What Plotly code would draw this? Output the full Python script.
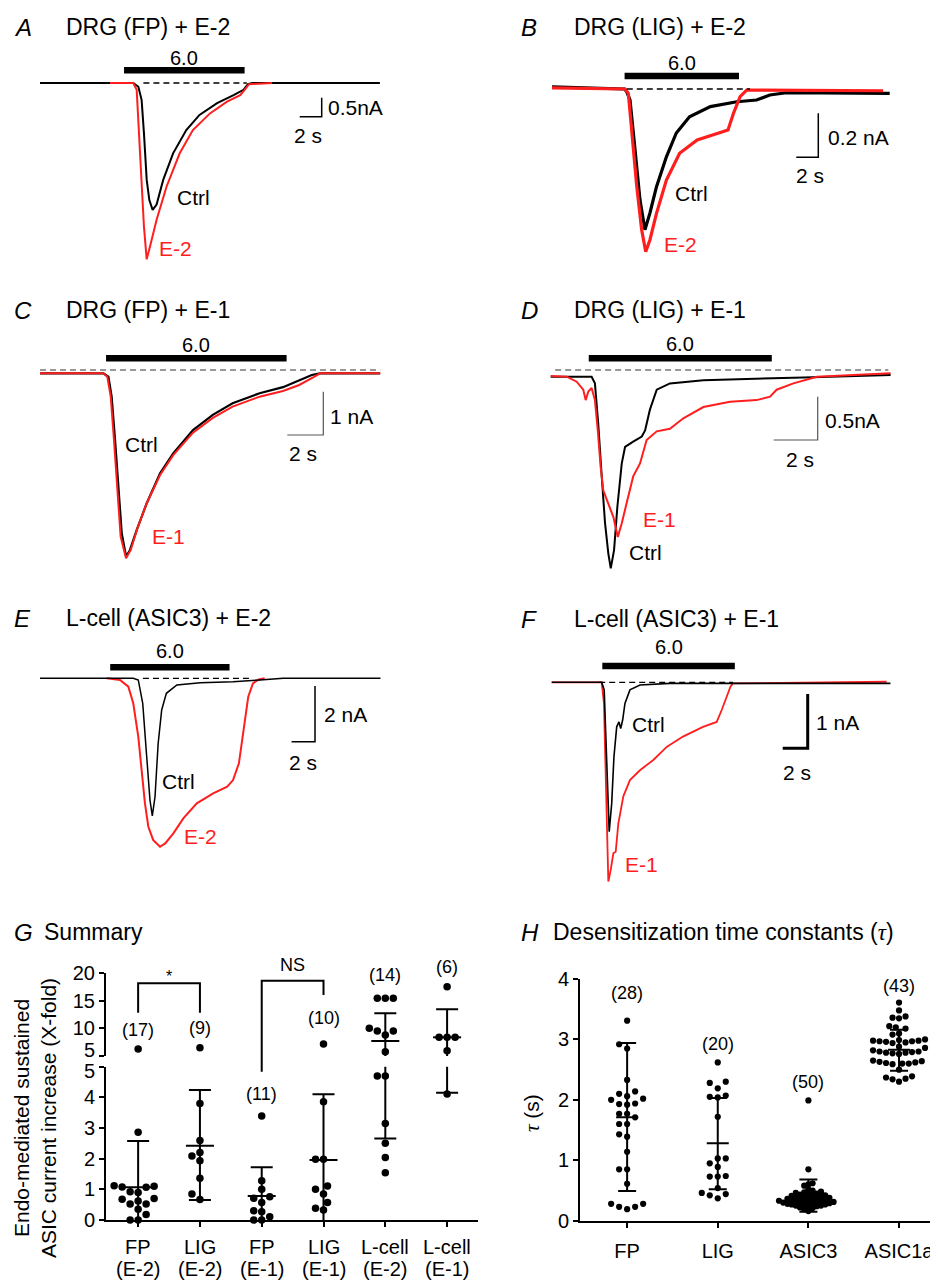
import plotly.graph_objects as go

# page is shown with the browser's default 8px body margin: compensate so that
# reference pixel (x, y) lands on screen pixel (x, y)
W, H = 938, 1282
OX, OY = 8, 8
FW, FH = W - OX, H - OY
FONT = "Liberation Sans, Arial, Helvetica, sans-serif"
RED = "#ff1e1e"
BLACK = "#000000"
GRAY = "#777777"

# ---------------- Panels A-F : example currents (time s, current nA) ----------------
TITLES = ["DRG (FP) + E-2", "DRG (LIG) + E-2", "DRG (FP) + E-1",
          "DRG (LIG) + E-1", "L-cell (ASIC3) + E-2", "L-cell (ASIC3) + E-1"]
LETTERS = ["A", "B", "C", "D", "E", "F"]
DRUG_LABELS = ["E-2", "E-2", "E-1", "E-1", "E-2", "E-1"]
CTRL_LABEL = "Ctrl"
PH_LABEL = "6.0"
STIM_ON = [7.64, 6.6, 3.67, 1.73, 6.0, 4.05]
STIM_OFF = [18.6, 17.0, 13.7, 10.05, 16.2, 14.65]
SCALE_T = [2, 2, 2, 2, 2, 2]
SCALE_I = [0.5, 0.2, 1, 0.5, 2, 1]
SCALE_T_TEXT = ["2 s"] * 6
SCALE_I_TEXT = ["0.5nA", "0.2 nA", "1 nA", "0.5nA", "2 nA", "1 nA"]

A_CTRL_T = [0, 8.48, 8.94, 9.24, 9.45, 9.7, 9.94, 10.24, 10.6, 11.2, 12.1, 13.3, 14.5, 16.1, 17.6, 18.5, 18.9, 19.3, 30.9]
A_CTRL_I = [0, 0, -0.1, -0.45, -1.32, -2.55, -3.08, -3.34, -3.2, -2.55, -1.85, -1.24, -0.84, -0.53, -0.32, -0.18, -0.03, 0, 0]
A_DRUG_T = [6.36, 8.48, 8.79, 9.03, 9.24, 9.45, 9.7, 10.0, 10.6, 11.5, 12.7, 13.9, 15.45, 17.0, 18.2, 18.6, 19.0, 21.1]
A_DRUG_I = [0, 0, -0.18, -1.32, -2.64, -3.78, -4.64, -4.3, -3.6, -2.73, -1.85, -1.24, -0.8, -0.49, -0.32, -0.18, -0.03, 0]

B_CTRL_T = [0, 6.6, 6.79, 7.09, 7.55, 8.0, 8.45, 8.9, 9.5, 10.4, 11.3, 12.5, 14.4, 16.8, 18.6, 19.8, 21.3, 30.7]
B_CTRL_I = [0.01, 0.0, -0.012, -0.05, -0.277, -0.505, -0.64, -0.564, -0.444, -0.308, -0.2, -0.126, -0.08, -0.058, -0.05, -0.027, -0.017, -0.02]
B_DRUG_T = [0, 6.64, 6.94, 7.24, 7.7, 8.15, 8.52, 8.9, 9.5, 10.4, 11.6, 13.2, 15.0, 16.0, 16.5, 17.1, 17.7, 30.1]
B_DRUG_I = [0.005, 0, -0.02, -0.2, -0.44, -0.64, -0.74, -0.686, -0.565, -0.414, -0.292, -0.232, -0.2, -0.186, -0.11, -0.035, -0.005, -0.008]

C_CTRL_T = [0, 3.52, 3.8, 3.98, 4.17, 4.35, 4.54, 4.78, 5.0, 5.37, 5.93, 6.67, 7.4, 8.5, 9.6, 10.7, 12.2, 13.5, 14.4, 15.1, 15.56, 18.9]
C_CTRL_I = [0, 0, -0.08, -0.54, -1.54, -2.7, -3.69, -4.23, -4.08, -3.62, -3.0, -2.31, -1.85, -1.31, -0.96, -0.69, -0.46, -0.32, -0.17, -0.04, 0, 0]
C_DRUG_T = [0, 3.52, 3.74, 3.93, 4.11, 4.3, 4.48, 4.78, 5.04, 5.41, 5.93, 6.67, 7.4, 8.5, 9.6, 10.7, 12.2, 13.5, 14.4, 15.2, 15.56, 18.9]
C_DRUG_I = [0, 0, -0.08, -0.54, -1.54, -2.7, -3.77, -4.27, -4.08, -3.58, -3.0, -2.35, -1.89, -1.37, -1.03, -0.77, -0.54, -0.41, -0.27, -0.09, 0, 0]

D_CTRL_T = [0, 1.86, 2.01, 2.16, 2.32, 2.47, 2.62, 2.73, 2.88, 3.03, 3.23, 3.38, 3.75, 4.14, 4.29, 4.51, 4.82, 5.42, 6.94, 9.2, 11.5, 15.45]
D_CTRL_I = [0, 0, -0.077, -0.54, -1.15, -1.69, -2.04, -2.21, -2.0, -1.5, -1.0, -0.81, -0.75, -0.69, -0.62, -0.38, -0.15, -0.077, -0.04, -0.02, -0.008, 0.02]
D_DRUG_T = [0, 0.73, 1.18, 1.48, 1.59, 1.71, 1.86, 2.01, 2.14, 2.27, 2.39, 2.62, 2.85, 3.05, 3.23, 3.45, 3.75, 4.06, 4.36, 4.82, 5.42, 6.03, 6.94, 8.15, 9.36, 9.97, 10.27, 11.03, 12.1, 15.45]
D_DRUG_I = [0.008, 0, -0.058, -0.15, -0.27, -0.17, -0.13, -0.27, -0.62, -1.04, -1.31, -1.46, -1.62, -1.85, -1.69, -1.46, -1.15, -1.0, -0.73, -0.63, -0.6, -0.48, -0.35, -0.29, -0.27, -0.23, -0.15, -0.077, 0, 0.04]

E_CTRL_T = [0, 7.97, 8.4, 8.78, 9.12, 9.4, 9.6, 9.83, 10.1, 10.4, 10.8, 11.7, 13.7, 16.5, 18.8, 20.8, 29.1]
E_CTRL_I = [0, 0, -0.06, -0.9, -2.82, -4.38, -4.95, -4.26, -2.34, -1.14, -0.54, -0.24, -0.16, -0.12, -0.06, 0, 0]
E_DRUG_T = [5.7, 6.84, 7.55, 7.97, 8.4, 8.69, 8.97, 9.26, 9.68, 10.26, 10.7, 11.4, 12.25, 13.4, 14.8, 16.0, 16.5, 17.0, 17.4, 17.8, 18.2, 18.7, 19.2]
E_DRUG_I = [0, -0.06, -0.3, -0.9, -2.1, -3.3, -4.5, -5.34, -5.82, -6.06, -5.94, -5.58, -5.04, -4.5, -4.14, -3.9, -3.66, -3.06, -1.86, -0.66, -0.18, -0.04, 0]

F_CTRL_T = [0, 4.0, 4.2, 4.4, 4.53, 4.6, 4.8, 4.98, 5.2, 5.38, 5.52, 5.68, 5.86, 6.26, 7.06, 9.46, 27.1]
F_CTRL_I = [0, 0, -0.14, -1.31, -2.23, -2.75, -2.23, -1.37, -0.82, -0.73, -0.85, -0.69, -0.39, -0.14, -0.05, -0.02, -0.02]
F_DRUG_T = [0, 4.0, 4.18, 4.32, 4.4, 4.53, 4.72, 4.93, 5.12, 5.33, 5.73, 6.26, 7.06, 8.13, 9.2, 10.5, 12.1, 13.2, 13.6, 13.9, 14.3, 14.5, 26.8]
F_DRUG_I = [0, 0, -0.39, -1.62, -2.84, -3.67, -3.46, -3.15, -3.12, -2.6, -2.1, -1.8, -1.62, -1.43, -1.19, -1.0, -0.82, -0.73, -0.51, -0.33, -0.08, -0.02, 0.01]

CTRL_T = [A_CTRL_T, B_CTRL_T, C_CTRL_T, D_CTRL_T, E_CTRL_T, F_CTRL_T]
CTRL_I = [A_CTRL_I, B_CTRL_I, C_CTRL_I, D_CTRL_I, E_CTRL_I, F_CTRL_I]
DRUG_T = [A_DRUG_T, B_DRUG_T, C_DRUG_T, D_DRUG_T, E_DRUG_T, F_DRUG_T]
DRUG_I = [A_DRUG_I, B_DRUG_I, C_DRUG_I, D_DRUG_I, E_DRUG_I, F_DRUG_I]

# ---------------- Panel G : summary ----------------
G_CATS = ["FP", "LIG", "FP", "LIG", "L-cell", "L-cell"]
G_DRUGS = ["(E-2)", "(E-2)", "(E-1)", "(E-1)", "(E-2)", "(E-1)"]
G_N = ["(17)", "(9)", "(11)", "(10)", "(14)", "(6)"]
G_VALUES = [
    [6.27, 2.86, 1.12, 1.10, 1.08, 1.07, 0.92, 0.90, 0.70, 0.68, 0.62, 0.52, 0.52, 0.35, 0.18, 0.0, 0.0],
    [6.51, 3.80, 2.59, 2.20, 2.09, 1.93, 1.36, 0.85, 0.67],
    [3.39, 1.28, 1.00, 0.76, 0.71, 0.57, 0.30, 0.27, 0.11, 0.0, 0.0],
    [7.18, 3.86, 1.98, 1.98, 1.11, 1.00, 0.85, 0.57, 0.38, 0.33],
    [15.47, 15.47, 15.47, 10.02, 9.54, 9.54, 8.81, 5.79, 4.70, 4.70, 3.15, 2.50, 2.04, 1.54],
    [17.58, 8.39, 8.39, 8.39, 5.97, 4.11],
]
G_MEAN = [1.07, 2.42, 0.78, 1.96, 7.72, 8.39]
G_HI = [2.58, 4.24, 1.72, 4.10, 12.74, 13.47]
G_LO = [-0.44, 0.65, -0.16, -0.18, 2.66, 4.15]
G_LOW_TICKS = [0, 1, 2, 3, 4, 5]
G_UP_TICKS = [5, 10, 15, 20]
G_YTITLE = "Endo-mediated sustained<br>ASIC current increase (X-fold)"

# ---------------- Panel H : desensitization time constants ----------------
H_CATS = ["FP", "LIG", "ASIC3", "ASIC1a"]
H_N = ["(28)", "(20)", "(50)", "(43)"]
H_VALUES = [
    [3.31, 2.92, 2.85, 2.33, 2.14, 2.10, 2.06, 2.02, 2.00, 1.94, 1.93, 1.92, 1.77, 1.77, 1.71,
     1.60, 1.60, 1.43, 1.39, 1.14, 0.85, 0.85, 0.61, 0.28, 0.28, 0.23, 0.23, 0.19],
    [2.62, 2.30, 2.28, 2.19, 2.07, 2.05, 2.04, 1.72, 1.03, 1.03, 0.95, 0.89, 0.74, 0.73, 0.73,
     0.54, 0.46, 0.44, 0.42, 0.37],
    [1.99, 0.85, 0.62, 0.60, 0.58, 0.52, 0.50, 0.48, 0.47, 0.46, 0.45, 0.44, 0.43, 0.42, 0.42,
     0.41, 0.40, 0.40, 0.39, 0.38, 0.38, 0.37, 0.36, 0.36, 0.35, 0.34, 0.34, 0.33, 0.33, 0.32,
     0.32, 0.31, 0.31, 0.30, 0.30, 0.29, 0.29, 0.28, 0.28, 0.27, 0.27, 0.26, 0.25, 0.25, 0.24,
     0.23, 0.22, 0.21, 0.19, 0.16],
    [3.61, 3.48, 3.38, 3.36, 3.35, 3.22, 3.20, 3.18, 3.10, 3.08, 3.00, 2.99, 2.98, 2.98, 2.97,
     2.97, 2.96, 2.95, 2.94, 2.88, 2.86, 2.82, 2.80, 2.80, 2.79, 2.78, 2.78, 2.77, 2.76, 2.65,
     2.64, 2.63, 2.62, 2.61, 2.60, 2.60, 2.59, 2.50, 2.39, 2.37, 2.35, 2.34, 2.30],
]
H_MEAN = [1.71, 1.28, 0.38, 2.83]
H_HI = [2.94, 2.03, 0.68, 3.16]
H_LO = [0.49, 0.52, 0.15, 2.48]
H_TICKS = [0, 1, 2, 3, 4]

# ---------------- layout specs (pixel positions in the reference) ----------------
SPEC = [
    dict(box=(30, 400, 40, 275), t0=40, sx=11.0, i0=83.0, sy=38.0, bar=70.3, ph=58,
         dash=(9.4, 18.8, 0.0, BLACK), corner=(321.7, 116.7), sbw=1.5, sbc=BLACK,
         lx=13, tx=65, ly=27, ctrl=(176, 197), drug=(158, 248), st=(327, 108), ss=(293, 135),
         red_top=True, lwc=2.0, lwd=2.0),
    dict(box=(540, 900, 40, 270), t0=552, sx=11.0, i0=89.0, sy=220.0, bar=76, ph=63,
         dash=(6.8, 18.0, 0.0, BLACK), corner=(818.3, 157.3), sbw=1.5, sbc=BLACK,
         lx=520, tx=573, ly=27, ctrl=(674, 194), drug=(663, 244), st=(827, 137), ss=(795, 175),
         red_top=True, lwc=3.2, lwd=3.2),
    dict(box=(30, 400, 330, 570), t0=40, sx=18.0, i0=373.3, sy=43.3, bar=358.3, ph=345,
         dash=(0.0, 18.9, 0.076, GRAY), corner=(323.3, 435), sbw=1.2, sbc="#555555",
         lx=13, tx=65, ly=310, ctrl=(124, 444), drug=(151, 536), st=(329, 417), ss=(288, 454),
         red_top=True, lwc=2.2, lwd=2.0),
    dict(box=(540, 900, 330, 575), t0=550.7, sx=22.0, i0=376.7, sy=86.7, bar=358.3, ph=344,
         dash=(0.2, 15.35, 0.077, GRAY), corner=(817.7, 440), sbw=1.2, sbc="#555555",
         lx=520, tx=573, ly=310, ctrl=(628, 552), drug=(642, 519), st=(824, 420), ss=(785, 459),
         red_top=True, lwc=2.0, lwd=2.0),
    dict(box=(30, 400, 640, 860), t0=40, sx=11.7, i0=678.3, sy=27.8, bar=667.3, ph=651,
         dash=(8.8, 18.2, 0.0, BLACK), corner=(315, 741.7), sbw=1.5, sbc=BLACK,
         lx=13, tx=65, ly=618, ctrl=(161, 781), drug=(183, 836), st=(323, 714), ss=(288, 762),
         red_top=False, lwc=1.5, lwd=2.0),
    dict(box=(540, 900, 640, 890), t0=551.7, sx=12.5, i0=682.3, sy=54.3, bar=666, ph=647,
         dash=(3.8, 14.5, 0.0, BLACK), corner=(807.7, 748.3), sbw=3.0, sbc=BLACK,
         lx=520, tx=573, ly=619, ctrl=(631, 724), drug=(624, 864), st=(815, 722), ss=(782, 772),
         red_top=False, lwc=1.6, lwd=1.8),
]

fig = go.Figure()
axes = {}
shapes = []
annotations = []


def px2p(px):
    return (px - OX) / FW


def py2p(py):
    return 1 - (py - OY) / FH


def ann(px, py, text, size=21, color=BLACK, xanchor="left", yanchor="middle", **kw):
    annotations.append(dict(x=px2p(px), y=py2p(py), xref="paper", yref="paper", text=text,
                            showarrow=False, xanchor=xanchor, yanchor=yanchor, borderpad=0,
                            font=dict(family=FONT, size=size, color=color), **kw))


for k, sp in enumerate(SPEC):
    n = k + 1
    sfx = "" if n == 1 else str(n)
    xa, ya = "x" + sfx, "y" + sfx
    l, r, t, b = sp["box"]
    xr = [(l - sp["t0"]) / sp["sx"], (r - sp["t0"]) / sp["sx"]]
    yr = [(sp["i0"] - b) / sp["sy"], (sp["i0"] - t) / sp["sy"]]
    axes["xaxis" + sfx] = dict(domain=[px2p(l), px2p(r)], range=xr, visible=False, anchor=ya, automargin=False)
    axes["yaxis" + sfx] = dict(domain=[py2p(b), py2p(t)], range=yr, visible=False, anchor=xa, automargin=False)
    ctrl = go.Scatter(x=CTRL_T[k], y=CTRL_I[k], mode="lines", xaxis=xa, yaxis=ya,
                      line=dict(color=BLACK, width=sp["lwc"]), hoverinfo="skip")
    drug = go.Scatter(x=DRUG_T[k], y=DRUG_I[k], mode="lines", xaxis=xa, yaxis=ya,
                      line=dict(color=RED, width=sp["lwd"]), hoverinfo="skip")
    for tr in ([ctrl, drug] if sp["red_top"] else [drug, ctrl]):
        fig.add_trace(tr)
    # stimulus bar
    shapes.append(dict(type="line", xref=xa, yref="paper", x0=STIM_ON[k], x1=STIM_OFF[k],
                       y0=py2p(sp["bar"]), y1=py2p(sp["bar"]), line=dict(color=BLACK, width=6.5)))
    annotations.append(dict(x=(STIM_ON[k] + STIM_OFF[k]) / 2, xref=xa, y=py2p(sp["ph"]), yref="paper",
                            text=PH_LABEL, showarrow=False, xanchor="center", yanchor="middle",
                            font=dict(family=FONT, size=20, color=BLACK)))
    # dashed baseline
    d0, d1, lvl, dc = sp["dash"]
    shapes.append(dict(type="line", xref=xa, yref=ya, x0=d0, x1=d1, y0=lvl, y1=lvl,
                       line=dict(color=dc, width=1.3, dash="6px,4px")))
    # scale bar
    cx, cy = sp["corner"]
    tc = (cx - sp["t0"]) / sp["sx"]
    ic = (sp["i0"] - cy) / sp["sy"]
    shapes.append(dict(type="path", xref=xa, yref=ya,
                       path=f"M {tc - SCALE_T[k]},{ic} L {tc},{ic} L {tc},{ic + SCALE_I[k]}",
                       line=dict(color=sp["sbc"], width=sp["sbw"])))
    ann(sp["st"][0], sp["st"][1], SCALE_I_TEXT[k])
    ann(sp["ss"][0], sp["ss"][1], SCALE_T_TEXT[k])
    # labels
    ann(sp["lx"], sp["ly"], f"<i>{LETTERS[k]}</i>", size=24)
    ann(sp["tx"], sp["ly"], TITLES[k], size=23)
    ann(sp["ctrl"][0], sp["ctrl"][1], CTRL_LABEL)
    ann(sp["drug"][0], sp["drug"][1], DRUG_LABELS[k], color=RED)


def swarm(vals, ypx, dist, step):
    order = sorted(range(len(vals)), key=lambda q: vals[q])
    placed, off = [], [0.0] * len(vals)
    for q in order:
        y = ypx(vals[q])
        j = 0
        while True:
            cands = [0.0] if j == 0 else ([j * step, -j * step] if j % 2 else [-j * step, j * step])
            hit = None
            for c in cands:
                if all((c - px) ** 2 + (y - pyy) ** 2 >= dist ** 2 for px, pyy in placed):
                    hit = c
                    break
            if hit is not None:
                break
            j += 1
        placed.append((hit, y))
        off[q] = hit
    return off


def whisker(i, mean, hi, lo, wc, wm):
    xs = [i, i, None, i - wc, i + wc, None, i - wc, i + wc, None, i - wm, i + wm]
    ys = [lo, hi, None, hi, hi, None, lo, lo, None, mean, mean]
    return xs, ys


AX = dict(showgrid=False, zeroline=False, showline=True, linewidth=2, linecolor=BLACK,
          ticks="outside", ticklen=5, tickwidth=2, tickcolor=BLACK, automargin=False,
          tickfont=dict(family=FONT, size=20, color=BLACK))

# ---- G axes: broken y axis ----
G_L, G_R = 106, 478
G_XR = [-0.52, 5.5]
G_LOW = (1066.7, 1220.0)
G_UP = (973.3, 1056.0)
axes["xaxis7"] = dict(AX, domain=[px2p(G_L), px2p(G_R)], range=G_XR, anchor="y7", tickmode="array",
                      tickvals=list(range(len(G_CATS))), ticktext=[""] * len(G_CATS))
axes["yaxis7"] = dict(AX, domain=[py2p(G_LOW[1]), py2p(G_LOW[0])], range=[0, 5], anchor="x7",
                      tickmode="array", tickvals=G_LOW_TICKS,
                      ticktext=[str(v) for v in G_LOW_TICKS[:-1]] + [""])
axes["xaxis8"] = dict(domain=[px2p(G_L), px2p(G_R)], range=G_XR, anchor="y8", showline=False,
                      showticklabels=False, ticks="", showgrid=False, zeroline=False, automargin=False)
axes["yaxis8"] = dict(AX, domain=[py2p(G_UP[1]), py2p(G_UP[0])], range=[5, 20], anchor="x8",
                      tickmode="array", tickvals=G_UP_TICKS,
                      ticktext=[""] + [str(v) for v in G_UP_TICKS[1:]])
ann(96, 1050, "5", size=20, xanchor="right")
ann(96, 1071, "5", size=20, xanchor="right")
# category labels (two rows)
for i in range(len(G_CATS)):
    for txt, yy in ((G_CATS[i], 1247), (G_DRUGS[i], 1269)):
        annotations.append(dict(x=i, xref="x7", y=py2p(yy), yref="paper", text=txt, showarrow=False,
                                xanchor="center", yanchor="middle", borderpad=0,
                                font=dict(family=FONT, size=20, color=BLACK)))

g_ppu_x = (G_R - G_L) / (G_XR[1] - G_XR[0])


def g_ypx(v):
    if v <= 5:
        return G_LOW[1] - v * (G_LOW[1] - G_LOW[0]) / 5
    return G_UP[1] - (v - 5) * (G_UP[1] - G_UP[0]) / 15


for i, vals in enumerate(G_VALUES):
    off = swarm(vals, g_ypx, 8.0, 4.0)
    lx = [i + o / g_ppu_x for o, v in zip(off, vals) if v <= 5]
    lv = [v for v in vals if v <= 5]
    ux = [i + o / g_ppu_x for o, v in zip(off, vals) if v > 5]
    uv = [v for v in vals if v > 5]
    wx, wy = whisker(i, G_MEAN[i], G_HI[i], G_LO[i], 11 / g_ppu_x, 14 / g_ppu_x)
    for xa, ya in (("x7", "y7"), ("x8", "y8")):
        fig.add_trace(go.Scatter(x=wx, y=wy, mode="lines", xaxis=xa, yaxis=ya,
                                 line=dict(color=BLACK, width=2), hoverinfo="skip"))
    fig.add_trace(go.Scatter(x=lx, y=lv, mode="markers", xaxis="x7", yaxis="y7", cliponaxis=False,
                             marker=dict(color=BLACK, size=7.5), hoverinfo="skip"))
    fig.add_trace(go.Scatter(x=ux, y=uv, mode="markers", xaxis="x8", yaxis="y8", cliponaxis=False,
                             marker=dict(color=BLACK, size=7.5), hoverinfo="skip"))

G_NPOS = [1030, 1028, 1094, 1018, 975, 967]
for i, lab in enumerate(G_N):
    annotations.append(dict(x=i, xref="x7", y=py2p(G_NPOS[i]), yref="paper", text=lab,
                            showarrow=False, xanchor="center", yanchor="middle",
                            font=dict(family=FONT, size=18, color=BLACK)))
# significance brackets
shapes.append(dict(type="path", xref="x7", yref="paper",
                   path=f"M 0,{py2p(1012.7)} L 0,{py2p(983.3)} L 1,{py2p(983.3)} L 1,{py2p(1012.7)}",
                   line=dict(color=BLACK, width=2)))
shapes.append(dict(type="path", xref="x7", yref="paper",
                   path=f"M 2,{py2p(1071.7)} L 2,{py2p(980.7)} L 3,{py2p(980.7)} L 3,{py2p(995)}",
                   line=dict(color=BLACK, width=2)))
annotations.append(dict(x=0.5, xref="x7", y=py2p(976), yref="paper", text="*", showarrow=False,
                        xanchor="center", yanchor="middle", font=dict(family=FONT, size=16, color=BLACK)))
annotations.append(dict(x=2.5, xref="x7", y=py2p(965), yref="paper", text="NS", showarrow=False,
                        xanchor="center", yanchor="middle", font=dict(family=FONT, size=18, color=BLACK)))
ann(35, 1118, G_YTITLE, size=21, xanchor="center", textangle=-90)
ann(13, 932, "<i>G</i>", size=24)
ann(43, 932, "Summary", size=23)

# ---- H axes ----
H_L, H_R = 580, 938
H_XR = [-0.52, 3.43]
H_Y = (979.0, 1220.7)
axes["xaxis9"] = dict(AX, domain=[px2p(H_L), px2p(H_R)], range=H_XR, anchor="y9", tickmode="array",
                      tickvals=list(range(len(H_CATS))), ticktext=H_CATS, ticklabelstandoff=6)
axes["yaxis9"] = dict(AX, domain=[py2p(H_Y[1]), py2p(H_Y[0])], range=[0, 4], anchor="x9",
                      tickmode="array", tickvals=H_TICKS)
h_ppu_x = (H_R - H_L) / (H_XR[1] - H_XR[0])
h_ppu_y = (H_Y[1] - H_Y[0]) / 4
H_SWARM = [8.0, 8.0, 4.2, 6.5]
for i, vals in enumerate(H_VALUES):
    off = swarm(vals, lambda v: H_Y[1] - v * h_ppu_y, H_SWARM[i], H_SWARM[i] / 2)
    wx, wy = whisker(i, H_MEAN[i], H_HI[i], H_LO[i], 9 / h_ppu_x, 11 / h_ppu_x)
    fig.add_trace(go.Scatter(x=wx, y=wy, mode="lines", xaxis="x9", yaxis="y9",
                             line=dict(color=BLACK, width=2), hoverinfo="skip"))
    fig.add_trace(go.Scatter(x=[i + o / h_ppu_x for o in off], y=vals, mode="markers",
                             xaxis="x9", yaxis="y9", cliponaxis=False,
                             marker=dict(color=BLACK, size=6.2), hoverinfo="skip"))
H_NPOS = [3.77, 2.93, 2.30, 3.89]
for i, lab in enumerate(H_N):
    annotations.append(dict(x=i, xref="x9", y=H_NPOS[i], yref="y9", text=lab, showarrow=False,
                            xanchor="center", yanchor="middle",
                            font=dict(family=FONT, size=18, color=BLACK)))
TAU = '<span style="font-family:Liberation Serif"><i>τ</i></span>'
ann(532, 1113, f"{TAU} (s)", size=21, xanchor="center", textangle=-90)
ann(520, 932, "<i>H</i>", size=24)
ann(552, 932, f"Desensitization time constants ({TAU})", size=23)

fig.update_layout(width=FW, height=FH, margin=dict(l=0, r=0, t=0, b=0, pad=0, autoexpand=False),
                  paper_bgcolor="white", plot_bgcolor="rgba(0,0,0,0)",
                  showlegend=False, hovermode=False, shapes=shapes, annotations=annotations,
                  font=dict(family=FONT, color=BLACK), **axes)
fig.write_html("out.html")
